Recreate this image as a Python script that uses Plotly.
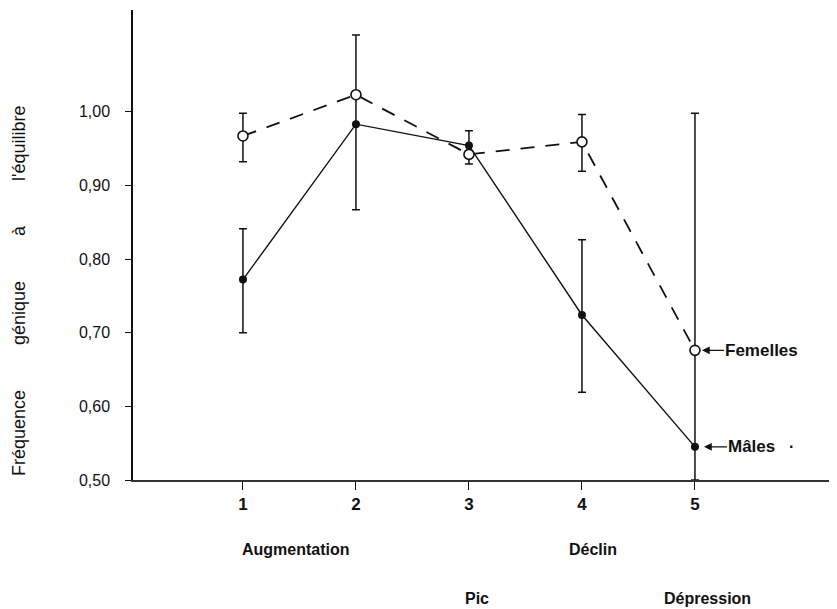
import plotly.graph_objects as go

nan = float("nan")

# Stages (x positions) and tick labels
stages = [1, 2, 3, 4, 5]
stage_ticktext = ["1", "2", "3", "4", "5"]

# Mâles (filled circles, solid line)
males = [0.772, 0.983, 0.954, 0.724, 0.545]
males_err_plus = [0.069, 0.121, 0.020, 0.102, nan]
males_err_minus = [0.072, 0.116, 0.025, 0.105, nan]

# Femelles (open circles, dashed line)
females = [0.967, 1.023, 0.942, 0.959, 0.676]
females_err_plus = [0.031, nan, nan, 0.037, 0.322]
females_err_minus = [0.035, nan, nan, 0.040, 0.176]

# Y axis ticks
y_tickvals = [0.50, 0.60, 0.70, 0.80, 0.90, 1.00]
y_ticktext = ["0,50", "0,60", "0,70", "0,80", "0,90", "1,00"]

# Phase labels
phase_names = ["Augmentation", "Déclin", "Pic", "Dépression"]
phase_x = [1.47, 4.10, 3.07, 5.11]
phase_row = [0, 0, 1, 1]

INK = "#111111"
SANS = "Liberation Sans, Arial, Helvetica, sans-serif"

fig = go.Figure()

fig.add_trace(go.Scatter(
    x=stages, y=males, mode="lines+markers", name="Mâles",
    line=dict(color=INK, width=1.4),
    marker=dict(symbol="circle", size=8, color=INK),
    error_y=dict(type="data", symmetric=False, array=males_err_plus,
                 arrayminus=males_err_minus, color=INK, thickness=1.5, width=4),
))

fig.add_trace(go.Scatter(
    x=stages, y=females, mode="lines+markers", name="Femelles",
    line=dict(color=INK, width=1.8, dash="14px,11px"),
    marker=dict(symbol="circle", size=10, color="white", line=dict(color=INK, width=1.6)),
    error_y=dict(type="data", symmetric=False, array=females_err_plus,
                 arrayminus=females_err_minus, color=INK, thickness=1.5, width=4),
))

annotations = []
# Y axis title
annotations.append(dict(
    text="Fréquence" + "\u00a0" * 9 + "génique" + "\u00a0" * 9 + "à" + "\u00a0" * 9 + "l'équilibre",
    xref="paper", yref="paper", x=-0.162, y=0.404, textangle=-90,
    showarrow=False, xanchor="center", yanchor="middle",
    font=dict(family=SANS, size=18, color=INK),
))
# Phase labels
for name, px, row in zip(phase_names, phase_x, phase_row):
    annotations.append(dict(
        text=name, xref="x", yref="paper", x=px, y=[-0.147, -0.253][row],
        showarrow=False, xanchor="center", yanchor="middle",
        font=dict(family=SANS, size=16, color=INK, weight="bold"),
    ))
# Series labels with arrows
annotations.append(dict(
    text="Femelles", x=stages[-1], y=females[-1], xref="x", yref="y",
    showarrow=True, ax=67, ay=0, axref="pixel", ayref="pixel",
    arrowhead=2, arrowsize=1.2, arrowwidth=1.3, arrowcolor=INK, standoff=7,
    font=dict(family=SANS, size=17, color=INK, weight="bold"),
))
annotations.append(dict(
    text="Mâles", x=stages[-1], y=males[-1], xref="x", yref="y",
    showarrow=True, ax=57, ay=0, axref="pixel", ayref="pixel",
    arrowhead=2, arrowsize=1.2, arrowwidth=1.3, arrowcolor=INK, standoff=9,
    font=dict(family=SANS, size=17, color=INK, weight="bold"),
))
annotations.append(dict(
    text="·", x=stages[-1], y=males[-1], xref="x", yref="y", xshift=97,
    showarrow=False, font=dict(family=SANS, size=16, color=INK, weight="bold"),
))

fig.update_layout(
    width=829, height=601,
    margin=dict(l=125, r=0, t=2, b=129, pad=0),
    paper_bgcolor="white", plot_bgcolor="white",
    showlegend=False,
    annotations=annotations,
    xaxis=dict(
        range=[0.027, 6.257], tickmode="array", tickvals=stages, ticktext=stage_ticktext,
        showgrid=False, zeroline=False, showline=True, linecolor="#333333", linewidth=1.5,
        ticks="outside", ticklen=8, tickwidth=1.3, tickcolor=INK,
        tickfont=dict(family=SANS, size=17, color=INK, weight="bold"),
    ),
    yaxis=dict(
        range=[0.5, 1.138], tickmode="array", tickvals=y_tickvals, ticktext=y_ticktext,
        showgrid=False, zeroline=False, showline=True, linecolor=INK, linewidth=1.5,
        ticks="outside", ticklen=6, tickwidth=1.3, tickcolor=INK,
        ticklabelstandoff=12,
        tickfont=dict(family=SANS, size=16, color=INK),
    ),
)

fig.write_html("out.html")
